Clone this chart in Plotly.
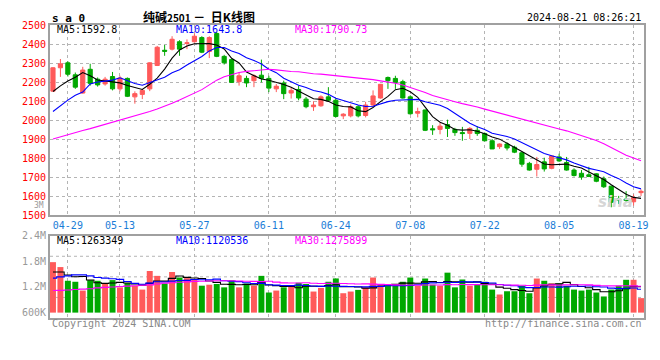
import plotly.graph_objects as go

# ---------------- data ----------------
dates = ["04-25","04-26","04-29","04-30",
         "05-06","05-07","05-08","05-09","05-10","05-13","05-14","05-15","05-16","05-17",
         "05-20","05-21","05-22","05-23","05-24","05-27","05-28","05-29","05-30","05-31",
         "06-03","06-04","06-05","06-06","06-07","06-11","06-12","06-13","06-14",
         "06-17","06-18","06-19","06-20","06-21","06-24","06-25","06-26","06-27","06-28",
         "07-01","07-02","07-03","07-04","07-05","07-08","07-09","07-10","07-11","07-12",
         "07-15","07-16","07-17","07-18","07-19","07-22","07-23","07-24","07-25","07-26",
         "07-29","07-30","07-31","08-01","08-02","08-05","08-06","08-07","08-08","08-09",
         "08-12","08-13","08-14","08-15","08-16","08-19","08-20"]

opens = [2152,2275,2301,2238,2142,2267,2215,2190,2229,2164,2219,2122,2135,2164,2287,2367,
         2373,2412,2403,2412,2434,2361,2455,2335,2318,2202,2219,2207,2236,2219,2164,2195,
         2142,2161,2110,2070,2075,2122,2104,2022,2022,2070,2024,2079,2116,2224,2219,2202,
         2122,2036,2053,1954,1951,1976,1951,1934,1930,1946,1929,1891,1860,1874,1857,1828,
         1772,1741,1780,1746,1806,1777,1737,1720,1712,1717,1691,1652,1585,1584,1570,1618]
highs = [2278,2321,2309,2250,2280,2296,2224,2227,2253,2233,2224,2151,2164,2304,2390,2395,
         2441,2420,2424,2455,2441,2441,2463,2343,2322,2250,2233,2241,2318,2233,2190,2207,
         2173,2181,2121,2099,2130,2173,2113,2036,2082,2079,2096,2156,2190,2229,2233,2212,
         2130,2065,2055,1973,1985,2002,1959,1964,1963,1968,1935,1900,1877,1883,1865,1831,
         1780,1806,1802,1814,1823,1806,1746,1737,1754,1720,1703,1655,1601,1626,1609,1635]
lows = [2150,2227,2229,2164,2139,2181,2176,2181,2156,2151,2121,2086,2110,2152,2284,2338,
        2366,2338,2373,2407,2352,2326,2331,2292,2195,2181,2173,2173,2198,2147,2147,2110,
        2113,2104,2062,2048,2070,2096,2014,2005,2014,2014,2014,2070,2113,2164,2164,2113,
        2028,2014,1942,1922,1925,1911,1917,1891,1900,1917,1888,1848,1848,1840,1826,1754,
        1734,1703,1729,1741,1780,1734,1703,1686,1700,1673,1643,1541,1558,1563,1550,1601]
closes = [2275,2296,2241,2173,2263,2193,2185,2215,2164,2221,2125,2139,2156,2301,2383,2362,
          2425,2373,2406,2441,2357,2434,2335,2301,2198,2233,2195,2233,2219,2168,2178,2139,
          2156,2116,2070,2079,2122,2104,2019,2031,2070,2022,2079,2127,2188,2207,2198,2116,
          2033,2045,1946,1949,1968,1956,1934,1929,1956,1929,1891,1848,1874,1853,1831,1768,
          1737,1766,1743,1811,1785,1737,1708,1700,1703,1678,1649,1567,1580,1577,1592,1625]
volumes = [1781000,1666000,1345000,1322000,1116000,1361000,1345000,1283000,1361000,1191000,
           1292000,1230000,1139000,1574000,1460000,1283000,1551000,1421000,1407000,1384000,
           1230000,1253000,1269000,1191000,1361000,1191000,1283000,1230000,1460000,1070000,
           1116000,1191000,1230000,1299000,1269000,1093000,1178000,1322000,1400000,1054000,
           1093000,1132000,1191000,1421000,1253000,1230000,1230000,1322000,1421000,1230000,
           1398000,1253000,1230000,1535000,1191000,1375000,1230000,1269000,1322000,1139000,
           1024000,1100000,1100000,1230000,1054000,1398000,1345000,1283000,1283000,1230000,
           1139000,1116000,1139000,1070000,978000,1139000,1230000,1368000,1368000,939000]

# moving-average values before a full window exists
ma5_head = [2150,2180,2205,2225]
ma10_head = [2045,2075,2105,2130,2147,2190,2200,2205,2210]
ma30_head = [1900,1912,1922,1933,1945,1955,1966,1977,1988,1998,2010,2020,2032,2045,2058,
             2072,2088,2105,2122,2140,2160,2185,2210,2228,2240,2250,2256,2260,2262]
vma5_head = [1550000,1550000,1480000,1440000]
vma10_head = [1407000,1437000,1460000,1483000,1483000,1460000,1421000,1407000,1391000]
vma30_head = [1116000,1120000,1130000,1140000,1150000,1160000,1180000,1190000,1200000,1210000,
              1220000,1230000,1240000,1250000,1270000,1290000,1300000,1310000,1320000,1330000,
              1335000,1340000,1345000,1345000,1345000,1340000,1335000,1330000,1325000]

tick_dates = ["04-29","05-13","05-27","06-11","06-24","07-08","07-22","08-05","08-19"]
price_ticks = [1500,1600,1700,1800,1900,2000,2100,2200,2300,2400,2500]
vol_tickvals = [600000,1200000,1800000,2400000]
vol_ticktext = ["600K","1.2M","1.8M","2.4M"]

title_text = "纯碱<span style='font-size:10px'>2501</span> －  日K线图"
symbol_text = "s a 0"
time_text = "2024-08-21 08:26:21"
ma_labels = ["MA5:1592.8", "MA10:1643.8", "MA30:1790.73"]
vma_labels = ["MA5:1263349", "MA10:1120536", "MA30:1275899"]

# ---------------- helpers ----------------
def moving_avg(vals, n, head):
    out = list(head)
    for i in range(len(head), len(vals)):
        out.append(sum(vals[i - n + 1:i + 1]) / n)
    return out

RED = "#ff5a5a"
GREEN = "#00a800"
MONO = "DejaVu Sans Mono, Liberation Mono, monospace"
GRID = "#b4b4b4"
BORDER = "#a0a0a0"

vol_colors = [RED if c >= o else GREEN for o, c in zip(opens, closes)]

fig = go.Figure()

fig.add_trace(go.Candlestick(
    x=dates, open=opens, high=highs, low=lows, close=closes,
    increasing=dict(line=dict(color=RED, width=1), fillcolor=RED),
    decreasing=dict(line=dict(color=GREEN, width=1), fillcolor=GREEN),
    whiskerwidth=0, hoverinfo="skip", xaxis="x", yaxis="y", showlegend=False))

ma_colors = ["#000000", "#0000ff", "#ff00ff"]
for n, head, col in zip([5, 10, 30], [ma5_head, ma10_head, ma30_head], ma_colors):
    fig.add_trace(go.Scatter(x=dates, y=moving_avg(closes, n, head), mode="lines",
                             line=dict(color=col, width=1.1), hoverinfo="skip",
                             showlegend=False, xaxis="x", yaxis="y"))

fig.add_trace(go.Bar(x=dates, y=[v - vol_tickvals[0] for v in volumes], base=vol_tickvals[0],
                     marker=dict(color=vol_colors, line=dict(width=0)), width=0.8,
                     hoverinfo="skip", showlegend=False, xaxis="x2", yaxis="y2"))

for n, head, col in zip([5, 10, 30], [vma5_head, vma10_head, vma30_head], ma_colors):
    fig.add_trace(go.Scatter(x=dates, y=moving_avg(volumes, n, head), mode="lines",
                             line=dict(color=col, width=1.1, shape="hvh"), hoverinfo="skip",
                             showlegend=False, xaxis="x2", yaxis="y2"))

axis_common = dict(showline=True, linecolor=BORDER, linewidth=2, mirror=True,
                   gridcolor=GRID, griddash="dot", gridwidth=1, zeroline=False,
                   ticks="", fixedrange=True)

# page body has a default 8px margin, so the figure is 8px smaller than the window
fig.update_layout(
    width=652, height=352,
    margin=dict(l=42, r=11, t=11, b=42),
    paper_bgcolor="white", plot_bgcolor="white",
    boxgap=0.2, bargap=0.2,
    font=dict(family=MONO, size=10, color="#000"),
    xaxis=dict(type="category", range=[-0.4, len(dates) - 0.6], anchor="y", domain=[0, 1],
               tickvals=tick_dates, ticktext=tick_dates, showgrid=True,
               ticklabeloverflow="allow",
               tickfont=dict(family=MONO, size=10, color="#1a7dd7"),
               rangeslider=dict(visible=False), **axis_common),
    yaxis=dict(domain=[0.3512, 1.0], range=[price_ticks[0], price_ticks[-1]], anchor="x",
               tickvals=price_ticks, showgrid=True,
               tickfont=dict(family=MONO, size=10, color="#ff0000"), **axis_common),
    xaxis2=dict(type="category", range=[-0.4, len(dates) - 0.6], anchor="y2", domain=[0, 1],
                matches="x", tickvals=tick_dates, showticklabels=False, showgrid=True,
                rangeslider=dict(visible=False), **axis_common),
    yaxis2=dict(domain=[0, 0.2809], range=[474000, 2400000], anchor="x2",
                tickvals=vol_tickvals, ticktext=vol_ticktext, showgrid=False,
                tickfont=dict(family=MONO, size=10, color="#999999"), **axis_common),
)

# horizontal dotted grid in volume panel
for fy in [0.25, 0.5, 0.75]:
    fig.add_shape(type="line", xref="paper", yref="y2 domain", x0=0, x1=1, y0=fy, y1=fy,
                  line=dict(color=GRID, width=1, dash="dot"), layer="below")

ann = []
ann.append(dict(text=symbol_text, x=0.0, y=1.0234, xanchor="left", yanchor="middle",
                font=dict(family=MONO, size=11, color="#000", weight="bold")))
ann.append(dict(text=title_text, x=0.2504, y=1.030, xanchor="center", yanchor="middle",
                font=dict(family="Noto Sans CJK SC", size=12, color="#000", weight="bold")))
ann.append(dict(text=time_text, x=0.9983, y=1.0268, xanchor="right", yanchor="middle",
                font=dict(family=MONO, size=10, color="#000")))
for txt, xp, col in zip(ma_labels, [0.0084, 0.2087, 0.409], ma_colors):
    ann.append(dict(text=txt, x=xp, y=0.9833, xanchor="left", yanchor="middle",
                    font=dict(family=MONO, size=10, color=col)))
for txt, xp, col in zip(vma_labels, [0.0084, 0.2087, 0.409], ma_colors):
    ann.append(dict(text=txt, x=xp, y=0.2659, xanchor="left", yanchor="middle",
                    font=dict(family=MONO, size=10, color=col)))
ann.append(dict(text="3M", x=-0.0067, y=0.383, xanchor="right", yanchor="middle",
                font=dict(family=MONO, size=8, color="#999999")))
ann.append(dict(text="Copyright 2024 SINA.COM", x=0.0, y=-0.0201, xanchor="left",
                yanchor="middle", font=dict(family=MONO, size=10, color="#888888")))
ann.append(dict(text="http://finance.sina.com.cn", x=1.0, y=-0.0201, xanchor="right",
                yanchor="middle", font=dict(family=MONO, size=10, color="#888888")))
ann.append(dict(text="<i><b>sina</b></i>", x=0.985, y=0.395, xanchor="right", yanchor="middle",
                font=dict(family="DejaVu Sans", size=15, color="#d6d6d6")))
for a in ann:
    a.update(xref="paper", yref="paper", showarrow=False)
fig.update_layout(annotations=ann)

fig.write_html("out.html")
